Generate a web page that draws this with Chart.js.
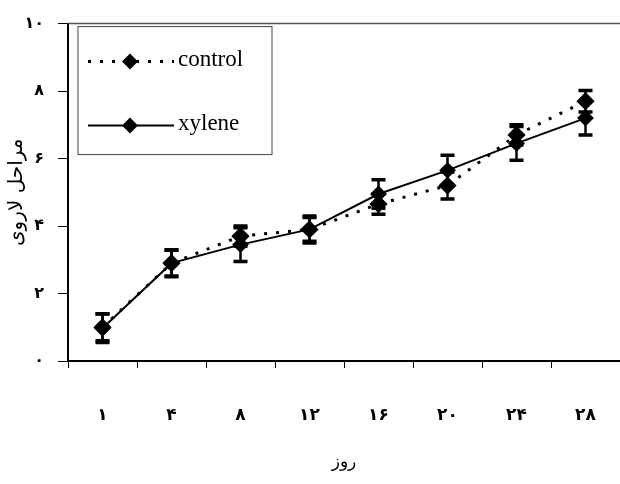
<!DOCTYPE html>
<html>
<head>
<meta charset="utf-8">
<script src="https://cdn.jsdelivr.net/npm/chart.js@4.4.1/dist/chart.umd.min.js"></script>
<style>
  html, body { margin: 0; padding: 0; background: #fff; overflow: hidden; }
  #wrap { width: 620px; height: 484px; }
  canvas { display: block; }
</style>
</head>
<body>
<div id="wrap"><canvas id="c"></canvas></div>
<script>
const days = ['۱', '۴', '۸', '۱۲', '۱۶', '۲۰', '۲۴', '۲۸'];
const yTicks = ['۰', '۲', '۴', '۶', '۸', '۱۰'];
const control = [1.0, 2.9, 3.7, 3.9, 4.65, 5.2, 6.7, 7.7];
const controlErr = [0.4, 0.4, 0.3, 0.35, 0.3, 0.4, 0.3, 0.32];
const xylene = [0.97, 2.9, 3.45, 3.9, 4.95, 5.65, 6.45, 7.2];
const xyleneErr = [0.42, 0.38, 0.5, 0.4, 0.42, 0.45, 0.5, 0.5];
const errors = [controlErr, xyleneErr];

const arabicFont = "'DejaVu Sans', sans-serif";
const latinFont = "'Liberation Serif', 'DejaVu Serif', serif";

// error bars drawn from the scales
const errorBars = {
    id: 'errorBars',
    afterDatasetsDraw(chart) {
        const ctx = chart.ctx;
        const y = chart.scales.y;
        ctx.save();
        ctx.strokeStyle = '#000';
        chart.data.datasets.forEach((ds, di) => {
            const meta = chart.getDatasetMeta(di);
            meta.data.forEach((pt, i) => {
                const v = ds.data[i];
                const e = errors[di][i];
                const top = y.getPixelForValue(v + e);
                const bot = y.getPixelForValue(v - e);
                ctx.lineWidth = 2.5;
                ctx.beginPath();
                ctx.moveTo(pt.x, top);
                ctx.lineTo(pt.x, bot);
                ctx.stroke();
                ctx.lineWidth = 3.5;
                ctx.beginPath();
                ctx.moveTo(pt.x - 7, top);
                ctx.lineTo(pt.x + 7, top);
                ctx.moveTo(pt.x - 7, bot);
                ctx.lineTo(pt.x + 7, bot);
                ctx.stroke();
            });
        });
        ctx.restore();
    }
};

// frame top line and legend box inside plot
const frameLegend = {
    id: 'frameLegend',
    afterDraw(chart) {
        const ctx = chart.ctx;
        const a = chart.chartArea;
        ctx.save();
        ctx.strokeStyle = '#555';
        ctx.lineWidth = 1.5;
        ctx.beginPath();
        ctx.moveTo(a.left, a.top);
        ctx.lineTo(a.right, a.top);
        ctx.stroke();

        const bx = a.left + 10, by = a.top + 3, bw = 194, bh = 128;
        ctx.strokeStyle = '#444';
        ctx.lineWidth = 1;
        ctx.strokeRect(bx, by, bw, bh);

        chart.data.datasets.forEach((ds, i) => {
            const ly = by + 35 + i * 64;
            ctx.strokeStyle = '#000';
            ctx.lineWidth = ds.borderWidth;
            ctx.setLineDash(ds.borderDash || []);
            ctx.beginPath();
            ctx.moveTo(bx + 10, ly);
            ctx.lineTo(bx + 96, ly);
            ctx.stroke();
            ctx.setLineDash([]);
            ctx.fillStyle = '#000';
            const cx = bx + 52, r = 8;
            ctx.beginPath();
            ctx.moveTo(cx, ly - r);
            ctx.lineTo(cx + r, ly);
            ctx.lineTo(cx, ly + r);
            ctx.lineTo(cx - r, ly);
            ctx.closePath();
            ctx.fill();
            ctx.font = '23px ' + latinFont;
            ctx.textBaseline = 'middle';
            ctx.fillText(ds.label, bx + 100, ly - 2);
        });
        ctx.restore();
    }
};

new Chart(document.getElementById('c'), {
    type: 'line',
    data: {
        labels: days,
        datasets: [{
            label: 'control',
            data: control,
            borderColor: '#000',
            backgroundColor: '#000',
            borderWidth: 3,
            borderDash: [3, 9],
            pointStyle: 'rectRot',
            pointRadius: 7,
            tension: 0
        }, {
            label: 'xylene',
            data: xylene,
            borderColor: '#000',
            backgroundColor: '#000',
            borderWidth: 2,
            pointStyle: 'rectRot',
            pointRadius: 7,
            tension: 0
        }]
    },
    options: {
        responsive: true,
        maintainAspectRatio: false,
        animation: false,
        layout: { autoPadding: false, padding: { top: 20, right: 0, left: 0, bottom: 0 } },
        plugins: {
            legend: { display: false },
            tooltip: { enabled: false }
        },
        scales: {
            x: {
                offset: true,
                grid: { offset: true, drawOnChartArea: false, drawTicks: true, tickLength: 7, color: '#000', lineWidth: 1 },
                border: { color: '#000', width: 2 },
                ticks: { color: '#000', padding: 37, font: { family: arabicFont, size: 17, weight: 'bold' } },
                title: { display: true, text: 'روز', color: '#000', padding: { top: 0, bottom: 11 }, font: { family: arabicFont, size: 17 } },
                afterFit(scale) { scale.height = 123; scale.paddingRight = 0; scale.paddingLeft = 0; }
            },
            y: {
                min: 0,
                max: 10,
                grid: { drawOnChartArea: false, drawTicks: true, tickLength: 10, color: '#000', lineWidth: 1 },
                border: { color: '#000', width: 2 },
                ticks: {
                    stepSize: 2,
                    color: '#000',
                    padding: 14,
                    font: { family: arabicFont, size: 16, weight: 'bold' },
                    callback: (v) => yTicks[v / 2]
                },
                title: { display: true, text: 'مراحل لاروی', color: '#000', padding: { top: 5, bottom: 0 }, font: { family: arabicFont, size: 20 } },
                afterFit(scale) { scale.width = 68; }
            }
        }
    },
    plugins: [errorBars, frameLegend]
});
</script>
</body>
</html>
